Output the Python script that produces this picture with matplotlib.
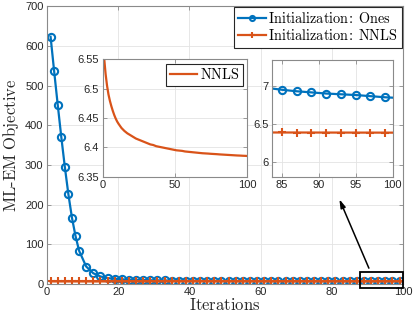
import matplotlib
matplotlib.use("Agg")
import matplotlib.pyplot as plt

plt.rcParams['mathtext.fontset'] = 'cm'
plt.rcParams['font.family'] = ['Liberation Sans', 'DejaVu Sans']

BLUE = '#0072BD'
ORANGE = '#D95319'
AXC = '#262626'
SPC = '#8a8a8a'
GRID = '#e3e3e3'

# --- data ---
ones_iters = [1, 2, 3, 4, 5, 6, 7, 8, 9, 11, 13, 15, 17, 19, 21, 23, 25, 27, 29, 31,
              33, 35, 37, 39, 41, 43, 45, 47, 49, 51, 53, 55, 57, 59, 61, 63, 65, 67,
              69, 71, 73, 75, 77, 79, 81, 83, 85, 87, 89, 91, 93, 95, 97, 99, 100]
ones_vals = [623, 536, 452, 371, 295, 226, 167, 121, 84, 44, 27, 19, 15, 13, 11.8,
             11.0, 10.4, 9.9, 9.5, 9.2, 8.9, 8.7, 8.5, 8.3, 8.15, 8.0, 7.9, 7.8, 7.7,
             7.62, 7.55, 7.49, 7.43, 7.38, 7.33, 7.29, 7.25, 7.21, 7.18, 7.15, 7.12,
             7.09, 7.06, 7.03, 7.01, 6.98, 6.955, 6.935, 6.92, 6.905, 6.895, 6.885,
             6.87, 6.855, 6.85]

nnls_iters = [1, 2, 3, 4, 5, 6, 7, 8, 9, 10, 11, 13, 15, 17, 19, 21, 23, 25, 27, 29,
              31, 33, 35, 37, 39, 41, 43, 45, 47, 49, 51, 53, 55, 57, 59, 61, 63, 65,
              67, 69, 71, 73, 75, 77, 79, 81, 83, 85, 87, 89, 91, 93, 95, 97, 99, 100]
nnls_vals = [6.552, 6.525, 6.505, 6.490, 6.479, 6.470, 6.462, 6.455, 6.449, 6.444,
             6.440, 6.433, 6.428, 6.424, 6.421, 6.418, 6.415, 6.413, 6.411, 6.409,
             6.407, 6.405, 6.404, 6.402, 6.401, 6.400, 6.399, 6.398, 6.397, 6.396,
             6.395, 6.3945, 6.394, 6.393, 6.3925, 6.392, 6.3915, 6.391, 6.3905, 6.390,
             6.3897, 6.3894, 6.389, 6.3887, 6.3884, 6.388, 6.3877, 6.3874, 6.3871,
             6.3868, 6.3865, 6.3862, 6.386, 6.3857, 6.3855, 6.3853]

main_xticks = [0, 20, 40, 60, 80, 100]
main_yticks = [0, 100, 200, 300, 400, 500, 600, 700]
in1_xticks = [0, 50, 100]
in1_yticks = [6.35, 6.4, 6.45, 6.5, 6.55]
in1_ylabels = ['6.35', '6.4', '6.45', '6.5', '6.55']
in2_xticks = [85, 90, 95, 100]
in2_yticks = [6, 6.5, 7]
in2_ylabels = ['6', '6.5', '7']

ones_marks = [i for i, t in enumerate(ones_iters) if t < 100]
nnls_marks = [i for i, t in enumerate(nnls_iters) if t % 2 == 1]

fig = plt.figure(figsize=(4.15, 3.22), dpi=100)


def style(ax, fs=8):
    ax.grid(True, color=GRID, linewidth=0.6)
    ax.set_axisbelow(True)
    for s in ax.spines.values():
        s.set_color(SPC)
        s.set_linewidth(0.8)
    ax.tick_params(direction='in', length=3, width=0.6, colors=SPC,
                   labelcolor=AXC, labelsize=fs, top=True, right=True, pad=2.5)


def plot_series(ax, lw=1.6):
    ax.plot(ones_iters, ones_vals, color=BLUE, lw=lw, marker='o', ms=5.2,
            mfc='none', mew=1.5, markevery=ones_marks,
            label=r'$\mathrm{Initialization}\!:\;\mathrm{Ones}$')
    ax.plot(nnls_iters, nnls_vals, color=ORANGE, lw=lw, marker='+', ms=6,
            mew=1.5, markevery=nnls_marks,
            label=r'$\mathrm{Initialization}\!:\;\mathrm{NNLS}$')


# main axes
ax = fig.add_axes([0.1133, 0.118, 0.858, 0.863])
plot_series(ax)
ax.set_xlim(0, 100)
ax.set_ylim(0, 700)
ax.set_xticks(main_xticks)
ax.set_yticks(main_yticks)
style(ax)
ax.set_xlabel(r'$\mathrm{Iterations}$', fontsize=12, labelpad=0, color=AXC)
ax.set_ylabel(r'$\mathrm{ML\text{-}EM\ Objective}$', fontsize=12, labelpad=3, color=AXC)
leg = ax.legend(loc='upper right', borderaxespad=0.05, fontsize=10.3,
                handlelength=1.9, handletextpad=0.2, labelspacing=0.15,
                borderpad=0.3, fancybox=False, framealpha=1, markerscale=0.7)
leg.get_frame().set_edgecolor('#262626')
leg.get_frame().set_linewidth(0.8)

# zoom rectangle and arrow
ax.add_patch(plt.Rectangle((87.9, -10.8), 12.2, 41.8, fill=False, ec='black',
                           lw=1.3, clip_on=False, zorder=5))
ax.annotate('', xy=(81.8, 220), xytext=(90.7, 33.5),
            arrowprops=dict(arrowstyle='-|>,head_length=0.5,head_width=0.15',
                            color='black', lw=1.1))

# inset 1
ax1 = fig.add_axes([0.2475, 0.4512, 0.348, 0.3646])
ax1.plot(nnls_iters, nnls_vals, color=ORANGE, lw=1.6, label=r'$\mathrm{NNLS}$')
ax1.set_xlim(0, 100)
ax1.set_ylim(6.35, 6.55)
ax1.set_xticks(in1_xticks)
ax1.set_yticks(in1_yticks)
ax1.set_yticklabels(in1_ylabels)
style(ax1)
ax1.set_facecolor('white')
l1 = ax1.legend(loc='upper right', borderaxespad=0.3, fontsize=10.3,
                handlelength=1.9, handletextpad=0.2, borderpad=0.25,
                fancybox=False, framealpha=1)
l1.get_frame().set_edgecolor('#262626')
l1.get_frame().set_linewidth(0.8)

# inset 2
ax2 = fig.add_axes([0.656, 0.4512, 0.290, 0.3624])
plot_series(ax2)
ax2.set_xlim(83.7, 100)
ax2.set_ylim(5.8, 7.35)
ax2.set_xticks(in2_xticks)
ax2.set_yticks(in2_yticks)
ax2.set_yticklabels(in2_ylabels)
style(ax2)
ax2.set_facecolor('white')

fig.savefig('out.png', dpi=100)
